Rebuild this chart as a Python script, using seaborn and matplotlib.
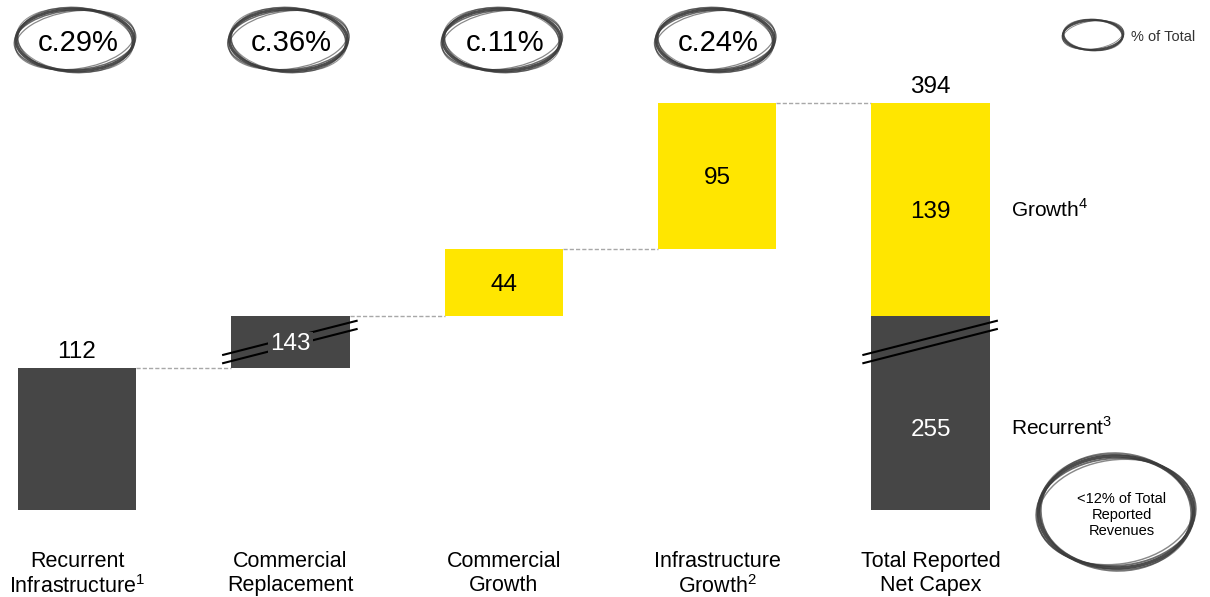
import numpy as np
import pandas as pd
import matplotlib
matplotlib.use("Agg")
import matplotlib.pyplot as plt
import seaborn as sns
from matplotlib.patches import Ellipse

# ---------------- data ----------------
categories = ["Recurrent Infrastructure", "Commercial Replacement", "Commercial Growth",
              "Infrastructure Growth", "Total Reported Net Capex"]
tick_labels = ["Recurrent\nInfrastructure$^\\mathregular{1}$", "Commercial\nReplacement",
               "Commercial\nGrowth", "Infrastructure\nGrowth$^\\mathregular{2}$",
               "Total Reported\nNet Capex"]
step_values = [112, 143, 44, 95]
step_kinds = ["Recurrent", "Recurrent", "Growth", "Growth"]
share_labels = ["c.29%", "c.36%", "c.11%", "c.24%"]
side_labels = {"Growth": "Growth$^\\mathregular{4}$", "Recurrent": "Recurrent$^\\mathregular{3}$"}
legend_text = "% of Total"
note_text = "<12% of Total\nReported\nRevenues"

# ---------------- style ----------------
DARK = "#464646"
YELLOW = "#FFE600"
palette = {"Recurrent": DARK, "Growth": YELLOW}
BAR_W = 0.555

sns.set_style("white")
plt.rcParams["font.family"] = ["Liberation Sans", "DejaVu Sans"]
plt.rcParams["mathtext.fontset"] = "custom"
plt.rcParams["mathtext.rm"] = "Liberation Sans"
plt.rcParams["text.color"] = "black"
plt.rcParams["xtick.color"] = "black"

# ---------------- segments ----------------
bottoms = np.concatenate([[0], np.cumsum(step_values)[:-1]])
rows = []
for c, k, b, v in zip(categories[:-1], step_kinds, bottoms, step_values):
    rows.append(dict(category=c, kind=k, bottom=b, value=v))
total_by_kind = {}
for k in ["Recurrent", "Growth"]:
    total_by_kind[k] = sum(v for v, kk in zip(step_values, step_kinds) if kk == k)
rows.append(dict(category=categories[-1], kind="Recurrent", bottom=0, value=total_by_kind["Recurrent"]))
rows.append(dict(category=categories[-1], kind="Growth", bottom=total_by_kind["Recurrent"],
                 value=total_by_kind["Growth"]))
seg = pd.DataFrame(rows)
seg["pos"] = seg["category"].map({c: i for i, c in enumerate(categories)})
seg["top"] = seg["bottom"] + seg["value"]
total = int(seg.loc[seg.pos == len(categories) - 1, "value"].sum())

fig = plt.figure(figsize=(12.10, 5.97), dpi=100)
ax = fig.add_axes([0, 87 / 597, 1, 510 / 597])

for kind in ["Recurrent", "Growth"]:
    sub = seg[seg.kind == kind].sort_values("pos")
    sns.barplot(data=sub, x="category", y="value", order=categories, color=palette[kind],
                saturation=1, width=BAR_W, bottom=sub["bottom"].to_numpy(),
                errorbar=None, linewidth=0, ax=ax, zorder=2)

# broken y axis: the second step (recurrent replacement) is compressed
lo = float(step_values[0])
hi = float(step_values[0] + step_values[1])
K = 0.238


def fwd(y):
    y = np.asarray(y, dtype=float)
    return np.where(y <= lo, y, np.where(y <= hi, lo + (y - lo) * K, y - (hi - lo) * (1 - K)))


def inv(t):
    t = np.asarray(t, dtype=float)
    thi = lo + (hi - lo) * K
    return np.where(t <= lo, t, np.where(t <= thi, lo + (t - lo) / K, t + (hi - lo) * (1 - K)))


ax.set_yscale("function", functions=(fwd, inv))
ax.set_ylim(19.2, 461.5)
ax.set_xlim(-0.3608, 5.309)
ax.set_yticks([])
ax.set_xlabel("")
ax.set_ylabel("")
for s in ax.spines.values():
    s.set_visible(False)
ax.set_xticks(range(len(categories)))
ax.set_xticklabels(tick_labels, fontsize=15.5, linespacing=1.18, color="black")
ax.tick_params(axis="x", length=0, pad=29.5)

# connectors
levels = np.cumsum(step_values)
for i, lev in enumerate(levels):
    ax.plot([i + BAR_W / 2, i + 1 - BAR_W / 2], [lev, lev], color="#a8a8a8",
            lw=1.0, ls=(0, (3, 1.5)), zorder=1)

# value labels
NUM_FS = 17.5
for _, r in seg.iterrows():
    if r.pos == 0:
        continue
    ymid = float(inv((fwd(r.bottom) + fwd(r.top)) / 2))
    col = "white" if r.kind == "Recurrent" else "black"
    bbox = None
    if r.pos == 1:
        bbox = dict(boxstyle="square,pad=0.08", fc=DARK, ec="none")
    ax.annotate(f"{int(r.value)}", (r.pos, ymid), xytext=(0, -6.1), textcoords="offset points",
                ha="center", va="baseline", fontsize=NUM_FS, color=col, zorder=6, bbox=bbox)
    if r.pos == len(categories) - 1:
        ax.annotate(side_labels[r.kind], (r.pos, ymid), xytext=(58, -5.4),
                    textcoords="offset points", ha="left", va="baseline", fontsize=15, color="black")

# labels above first bar and total
ax.annotate(f"{step_values[0]}", (0, step_values[0]), xytext=(0, 7.5), textcoords="offset points",
            ha="center", va="baseline", fontsize=NUM_FS, color="black")
ax.annotate(f"{total}", (len(categories) - 1, total), xytext=(0, 7.5), textcoords="offset points",
            ha="center", va="baseline", fontsize=NUM_FS, color="black")

# break marks
tc = float(fwd((lo + hi) / 2))
for p in [1, len(categories) - 1]:
    for dt in (2.7, -2.7):
        t0 = tc + dt - 11.3
        t1 = tc + dt + 11.3
        ax.plot([p - 0.32, p + 0.315], inv([t0, t1]), color="black", lw=1.5, zorder=5,
                solid_capstyle="butt")

# ---------------- decorations (pixel overlay) ----------------
ov = fig.add_axes([0, 0, 1, 1], zorder=10)
ov.set_xlim(0, 1210)
ov.set_ylim(0, 597)
ov.axis("off")
ov.patch.set_alpha(0)

variants = [(1.00, 1.00, 0, 2.0, 0.9), (1.03, 0.96, 4, 1.0, 0.75), (0.97, 1.05, -3, 1.0, 0.7),
            (1.015, 0.93, 8, 0.8, 0.6), (0.99, 1.02, -6, 0.7, 0.55)]


def scribble(cx, cy, w, h, base_lw=1.0):
    for sw, sh, ang, lw, a in variants:
        ov.add_patch(Ellipse((cx, cy), w * sw, h * sh, angle=ang, fill=False,
                             ec="#3a3a3a", lw=lw * base_lw, alpha=a))


for i, lab in enumerate(share_labels):
    cx = ax.transData.transform((i, 100))[0]
    scribble(cx - 2, 557, 118, 62, 1.1)
    ov.text(cx + 1, 554, lab, ha="center", va="center", fontsize=21, color="black")

scribble(1093, 562, 60, 30, 0.8)
ov.text(1131, 560, legend_text, ha="left", va="center", fontsize=10.5, color="#333333")

scribble(1116, 85, 155, 112, 1.3)
ov.text(1122, 82, note_text, ha="center", va="center", fontsize=10.5, linespacing=1.15,
        color="black")

fig.savefig("out.png", dpi=100)
